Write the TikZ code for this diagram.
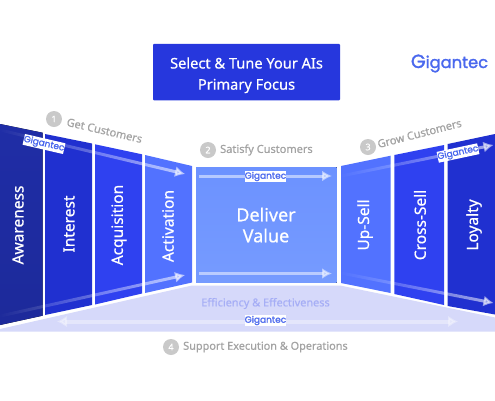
\documentclass[tikz,border=0pt]{standalone}
\usepackage{fontspec}
\setmainfont{Noto Sans}[RawFeature={embolden=0.6}]
\newfontfamily\logofont{Poppins}[RawFeature={embolden=1.6}]
\usetikzlibrary{fadings,arrows.meta}
\definecolor{pA}{HTML}{1F2DA6}
\definecolor{pB}{HTML}{2030D0}
\definecolor{pC}{HTML}{2F41F0}
\definecolor{pD}{HTML}{5272FF}
\definecolor{pE}{HTML}{6C92FF}
\definecolor{pF}{HTML}{769BFF}
\definecolor{band}{HTML}{D6D9FA}
\definecolor{logoblue}{HTML}{4A68EE}
\definecolor{numgrey}{HTML}{C9C9C9}
\definecolor{labgrey}{HTML}{A3A3A3}
\definecolor{efftext}{HTML}{A6AEF6}
\tikzset{
  paneltext/.style={text=white,font=\fontsize{15.5}{18}\selectfont,rotate=90,inner sep=0pt},
  numdot/.style={circle,fill=numgrey,text=white,minimum size=16pt,inner sep=0pt,font=\bfseries\fontsize{9}{10}\selectfont},
  steplabel/.style={text=labgrey,font=\fontsize{11}{13}\selectfont,inner sep=0pt},
  badge/.style={fill=white,text=logoblue,font=\logofont\fontsize{9}{10}\selectfont,inner sep=0pt,minimum width=39pt,minimum height=11pt},
  flow/.style={draw=white,line width=3pt,-{Latex[length=10pt,width=11pt]},opacity=.5},
  fadeflow/.style={flow,opacity=.6,path fading=west},
  bandflow/.style={draw=white,line width=4pt,{Latex[length=10pt,width=12pt]}-{Latex[length=10pt,width=12pt]},opacity=.35},
}
\begin{document}
\begin{tikzpicture}[x=1pt,y=-1pt]
\useasboundingbox (0,0) rectangle (495,400);
% title
\fill[fill=white] (0,0) rectangle (495,400);
\node[fill=pB!60!pC,minimum width=187pt,minimum height=56.5pt,inner sep=0pt,rounded corners=1pt] (title) at (246.5,72.2) {};
\node[text=white,font=\fontsize{14.6}{16}\selectfont,inner sep=0pt] (t1) at (246.5,63) {Select \& Tune Your AIs};
\node[text=white,font=\fontsize{14.6}{16}\selectfont,inner sep=0pt] (t2) at (246.5,86) {Primary Focus};
\node[text=logoblue,font=\logofont\fontsize{16.3}{20}\selectfont,inner sep=0pt] (logo) at (449.5,63.5) {{\fontsize{19}{20}\selectfont G}igantec};
% band
\fill[band] (0,329) -- (192,285.5) -- (340,285.5) -- (495,317.5) -- (495,331.5) -- (0,331.5) -- cycle;
% left panels
\fill[top color=pA,bottom color=pA!93!black] (0,124) -- (42.5,132.7) -- (42.5,315.7) -- (0,325) -- cycle;
\fill[pB] (45,134) -- (92,143.5) -- (92,305) -- (45,315) -- cycle;
\fill[pC] (95,144.3) -- (142,154.3) -- (142,293.5) -- (95,304.5) -- cycle;
\fill[pD] (145,155) -- (192,166) -- (192,282.5) -- (145,293) -- cycle;
% centre
\fill[top color=pE,bottom color=pF] (196,167) rectangle (336.5,282.7);
% right panels
\fill[pD] (341,166) -- (390.7,155.7) -- (390.7,293) -- (341,283) -- cycle;
\fill[pC] (394.3,155) -- (444,145) -- (444,305) -- (394.3,294) -- cycle;
\fill[pB] (447.7,144) -- (495,134) -- (495,314.5) -- (447.7,306) -- cycle;
% panel labels
\node[paneltext] (aw) at (18,225) {Awareness};
\node[paneltext] (in) at (69,224) {Interest};
\node[paneltext] (ac) at (119,225) {Acquisition};
\node[paneltext] (av) at (168,226) {Activation};
\node[paneltext] (up) at (365,225) {Up-Sell};
\node[paneltext] (cr) at (420,225) {Cross-Sell};
\node[paneltext] (lo) at (474,225) {Loyalty};
\node[text=white,font=\fontsize{18}{21}\selectfont,align=center,inner sep=0pt] (dv) at (266,225) {Deliver\\[0pt]Value};
% arrows
\coordinate (a1s) at (0,130);
\coordinate (a1e) at (185,174);
\coordinate (a2s) at (0,316);
\coordinate (a2e) at (185,275);
\coordinate (c1s) at (199,176);
\coordinate (c1e) at (332,176);
\coordinate (c2s) at (199,273.5);
\coordinate (c2e) at (332,273.5);
\coordinate (r1s) at (341,176);
\coordinate (r1e) at (493.5,145);
\coordinate (r2s) at (341,273);
\coordinate (r2e) at (493.5,303);
\coordinate (b1) at (57,321.5);
\coordinate (b2) at (458,321.5);
\draw[fadeflow] (a1s) -- (a1e);
\draw[fadeflow] (a2s) -- (a2e);
\draw[flow] (c1s) -- (c1e);
\draw[flow] (c2s) -- (c2e);
\draw[fadeflow] (r1s) -- (r1e);
\draw[fadeflow] (r2s) -- (r2e);
\draw[bandflow] (b1) -- (b2);
% badges
\node[badge,rotate=-13] (bg1) at (44,144) {Gigantec};
\node[badge] (bg2) at (265.5,176.5) {Gigantec};
\node[badge,rotate=12] (bg3) at (458,153) {Gigantec};
\node[badge] (bg4) at (265.5,320.5) {Gigantec};
% step labels
\node[numdot] (n1) at (54,119) {1};
\node[steplabel,rotate=-13] (s1) at (104.5,130.5) {Get Customers};
\node[numdot] (n2) at (208,150) {2};
\node[steplabel,anchor=west] (s2) at (220,150) {Satisfy Customers};
\node[numdot] (n3) at (368,147) {3};
\node[steplabel,rotate=14.5] (s3) at (419.5,133.5) {Grow Customers};
\node[numdot] (n4) at (171,347) {4};
\node[steplabel,anchor=west,font=\fontsize{10.9}{12}\selectfont] (s4) at (183,347) {Support Execution \& Operations};
\node[text=efftext,font=\fontsize{10.9}{12}\selectfont,inner sep=0pt] (eff) at (265.5,303.5) {Efficiency \& Effectiveness};
\end{tikzpicture}
\end{document}
